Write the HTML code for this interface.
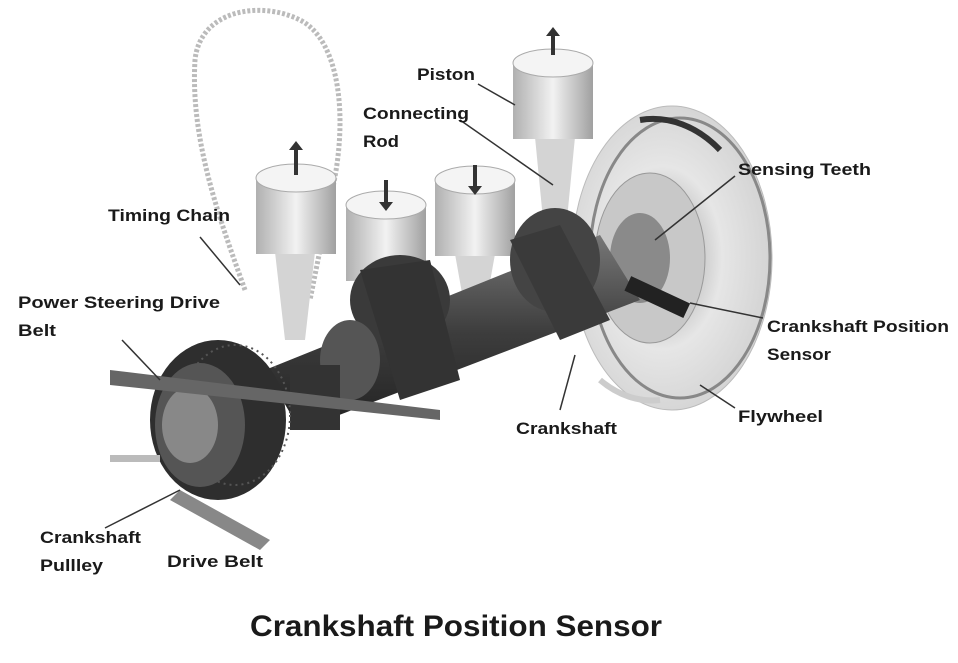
<!DOCTYPE html>
<html><head><meta charset="utf-8"><style>
html,body{margin:0;padding:0;background:#fff;}
svg{display:block}
text{font-family:"Liberation Sans",sans-serif;fill:#1a1a1a;}
.l{font-size:17px;font-weight:bold;}
</style></head><body>
<svg width="958" height="663" viewBox="0 0 958 663" xmlns="http://www.w3.org/2000/svg">
<defs>
<linearGradient id="pg" x1="0" x2="1"><stop offset="0" stop-color="#b0b0b0"/><stop offset=".5" stop-color="#f2f2f2"/><stop offset="1" stop-color="#a0a0a0"/></linearGradient>
<radialGradient id="fw" cx=".45" cy=".5" r=".6"><stop offset="0" stop-color="#9a9a9a"/><stop offset=".5" stop-color="#e6e6e6"/><stop offset="1" stop-color="#cfcfcf"/></radialGradient>
<linearGradient id="cs" x1="0" x2="0" y1="0" y2="1"><stop offset="0" stop-color="#777"/><stop offset=".5" stop-color="#3d3d3d"/><stop offset="1" stop-color="#222"/></linearGradient>
</defs>
<path d="M245 290 C220 220 190 140 195 60 C200 10 260 0 300 20 C340 40 350 120 330 200 L310 300" fill="none" stroke="#bbb" stroke-width="5" stroke-dasharray="3 2"/>
<ellipse cx="672" cy="258" rx="100" ry="152" fill="url(#fw)" stroke="#bbb"/>
<ellipse cx="680" cy="258" rx="90" ry="140" fill="none" stroke="#888" stroke-width="3"/>
<ellipse cx="650" cy="258" rx="55" ry="85" fill="#c8c8c8" stroke="#999"/>
<ellipse cx="640" cy="258" rx="30" ry="45" fill="#8a8a8a"/>
<path d="M640 120 A110 150 0 0 1 720 150" fill="none" stroke="#333" stroke-width="6"/>
<path d="M600 380 A100 140 0 0 0 660 400" fill="none" stroke="#ccc" stroke-width="6"/>
<g>
<path d="M275 252 L315 252 L305 340 L285 340Z M365 279 L405 279 L395 330 L375 330Z M455 254 L495 254 L485 310 L465 310Z M535 137 L575 137 L565 240 L545 240Z" fill="#d4d4d4"/>
<rect x="256" y="178" width="80" height="76" fill="url(#pg)"/><ellipse cx="296" cy="178" rx="40" ry="14" fill="#f4f4f4" stroke="#aaa"/>
<rect x="346" y="205" width="80" height="76" fill="url(#pg)"/><ellipse cx="386" cy="205" rx="40" ry="14" fill="#f4f4f4" stroke="#aaa"/>
<rect x="435" y="180" width="80" height="76" fill="url(#pg)"/><ellipse cx="475" cy="180" rx="40" ry="14" fill="#f4f4f4" stroke="#aaa"/>
<rect x="513" y="63" width="80" height="76" fill="url(#pg)"/><ellipse cx="553" cy="63" rx="40" ry="14" fill="#f4f4f4" stroke="#aaa"/>
<path d="M296 175 v-30 M386 180 v25 M475 165 v25 M553 55 v-25" stroke="#333" stroke-width="4"/>
<path d="M289 150 l7 -9 l7 9Z M379 202 l7 9 l7 -9Z M468 186 l7 9 l7 -9Z M546 36 l7 -9 l7 9Z" fill="#333"/>
</g>
<path d="M265 370 L600 235 L640 300 L300 430Z" fill="url(#cs)"/>
<ellipse cx="555" cy="260" rx="45" ry="52" fill="#444"/>
<path d="M510 240 L560 225 L610 320 L560 340Z" fill="#3a3a3a"/>
<ellipse cx="400" cy="300" rx="50" ry="45" fill="#3a3a3a"/>
<path d="M360 270 L430 260 L460 380 L400 400Z" fill="#333"/>
<ellipse cx="350" cy="360" rx="30" ry="40" fill="#555"/>
<rect x="290" y="365" width="50" height="65" fill="#333"/>
<rect x="625" y="288" width="65" height="16" fill="#222" transform="rotate(25 655 296)"/>
<ellipse cx="218" cy="420" rx="68" ry="80" fill="#2e2e2e"/>
<ellipse cx="235" cy="415" rx="55" ry="70" fill="none" stroke="#555" stroke-width="2" stroke-dasharray="2 4"/>
<ellipse cx="200" cy="425" rx="45" ry="62" fill="#555"/>
<ellipse cx="190" cy="425" rx="28" ry="38" fill="#888"/>
<path d="M110 370 L440 410 L440 420 L110 385Z" fill="#666"/>
<path d="M110 455 L160 455 L160 462 L110 462Z" fill="#bbb"/>
<path d="M180 490 L270 540 L260 550 L170 500Z" fill="#888"/>
<g stroke="#333" stroke-width="1.5" fill="none">
<line x1="478" y1="84" x2="515" y2="105"/>
<line x1="460" y1="120" x2="553" y2="185"/>
<line x1="735" y1="176" x2="655" y2="240"/>
<line x1="200" y1="237" x2="240" y2="285"/>
<line x1="122" y1="340" x2="160" y2="380"/>
<line x1="763" y1="318" x2="690" y2="303"/>
<line x1="735" y1="408" x2="700" y2="385"/>
<line x1="560" y1="410" x2="575" y2="355"/>
<line x1="105" y1="528" x2="180" y2="490"/>
</g>
<text class="l" x="417" y="80" textLength="58" lengthAdjust="spacingAndGlyphs">Piston</text>
<text class="l" x="363" y="119" textLength="106" lengthAdjust="spacingAndGlyphs">Connecting</text>
<text class="l" x="363" y="147" textLength="36" lengthAdjust="spacingAndGlyphs">Rod</text>
<text class="l" x="738" y="175" textLength="133" lengthAdjust="spacingAndGlyphs">Sensing Teeth</text>
<text class="l" x="108" y="221" textLength="122" lengthAdjust="spacingAndGlyphs">Timing Chain</text>
<text class="l" x="18" y="308" textLength="202" lengthAdjust="spacingAndGlyphs">Power Steering Drive</text>
<text class="l" x="18" y="336" textLength="38" lengthAdjust="spacingAndGlyphs">Belt</text>
<text class="l" x="767" y="332" textLength="182" lengthAdjust="spacingAndGlyphs">Crankshaft Position</text>
<text class="l" x="767" y="360" textLength="64" lengthAdjust="spacingAndGlyphs">Sensor</text>
<text class="l" x="738" y="422" textLength="85" lengthAdjust="spacingAndGlyphs">Flywheel</text>
<text class="l" x="516" y="434" textLength="101" lengthAdjust="spacingAndGlyphs">Crankshaft</text>
<text class="l" x="40" y="543" textLength="101" lengthAdjust="spacingAndGlyphs">Crankshaft</text>
<text class="l" x="40" y="571" textLength="63" lengthAdjust="spacingAndGlyphs">Pullley</text>
<text class="l" x="167" y="567" textLength="96" lengthAdjust="spacingAndGlyphs">Drive Belt</text>
<text x="250" y="636" font-size="30" font-weight="bold" textLength="412" lengthAdjust="spacingAndGlyphs">Crankshaft Position Sensor</text>
</svg>
</body></html>
